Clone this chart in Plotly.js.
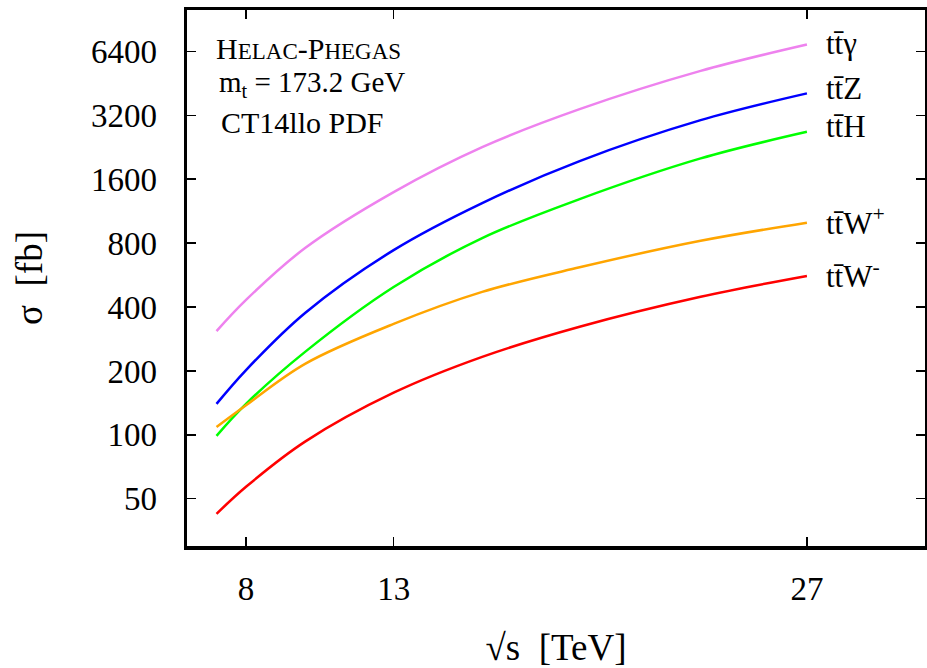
<!DOCTYPE html>
<html>
<head>
<meta charset="utf-8">
<script src="https://cdn.plot.ly/plotly-3.0.1.min.js"></script>
<style>html,body{margin:0;padding:0;background:#fff;}#chart{width:927px;height:668px;}</style>
</head>
<body>
<div id="chart"></div>
<script>
// Centre-of-mass energy in TeV
const sqrtS = [7, 8, 10, 13, 16, 19.3, 23.4, 27];
// Cross sections in fb
const ttGamma = [308, 432, 758, 1390, 2263, 3415, 5170, 6880];
const ttZ     = [140, 202, 375, 741, 1234, 1945, 3030, 4050];
const ttH     = [99, 140, 246, 497, 844, 1288, 2002, 2670];
const ttWplus = [109, 138, 216, 333, 471, 615, 820, 997];
const ttWminus= [42.5, 57, 93, 158, 233, 323, 447, 560];

const xTicks = [8, 13, 27];
const yTicks = [50, 100, 200, 400, 800, 1600, 3200, 6400];
const yTickText = ["50", "100", "200", "400", "800", "1600", "3200", "6400"];

const seriesNames = ["tt̄γ", "tt̄Z", "tt̄H", "tt̄W<sup>+</sup>", "tt̄W<sup>-</sup>"];
const seriesData = [ttGamma, ttZ, ttH, ttWplus, ttWminus];
const colors = ["#ee82ee", "#0000ff", "#00ff00", "#ffa500", "#ff0000"];
const labelY = [0.937, 0.853, 0.782, 0.606, 0.506];

const font = "Liberation Serif, Times New Roman, serif";

const traces = seriesData.map((ys, i) => ({
  x: sqrtS, y: ys, type: "scatter", mode: "lines",
  name: seriesNames[i],
  line: {color: colors[i], width: 2.5, shape: "spline", smoothing: 1},
  hoverinfo: "skip"
}));

const annotations = seriesNames.map((n, i) => ({
  text: n, xref: "paper", yref: "paper", x: 0.863, y: labelY[i],
  xanchor: "left", yanchor: "middle", showarrow: false,
  font: {family: font, size: 31, color: "#000"}
}));

const sc = "font-size:23px";
annotations.push(
  {text: "H<span style='" + sc + "'>ELAC</span>-P<span style='" + sc + "'>HEGAS</span>",
   xref: "paper", yref: "paper", x: 0.036, y: 0.929, xanchor: "left", yanchor: "middle",
   showarrow: false, font: {family: font, size: 30, color: "#000"}},
  {text: "m<sub>t</sub> = 173.2 GeV",
   xref: "paper", yref: "paper", x: 0.040, y: 0.862, xanchor: "left", yanchor: "middle",
   showarrow: false, font: {family: font, size: 29, color: "#000"}},
  {text: "CT14llo PDF",
   xref: "paper", yref: "paper", x: 0.044, y: 0.790, xanchor: "left", yanchor: "middle",
   showarrow: false, font: {family: font, size: 30, color: "#000"}}
);

const layout = {
  width: 927, height: 668,
  margin: {l: 187, r: 2, t: 10, b: 122},
  paper_bgcolor: "#fff", plot_bgcolor: "#fff",
  showlegend: false,
  font: {family: font, color: "#000"},
  xaxis: {
    range: [6, 31], tickvals: xTicks, ticktext: xTicks.map(String),
    ticks: "inside", ticklen: 9, tickwidth: 1.2, tickcolor: "#000",
    showline: true, linewidth: 3.5, linecolor: "#000", mirror: "ticks",
    showgrid: false, zeroline: false,
    ticklabelstandoff: 11,
    tickfont: {family: font, size: 33, color: "#000"},
    title: {text: "√s  [TeV]", font: {family: font, size: 37, color: "#000"}, standoff: 30}
  },
  yaxis: {
    type: "log", range: [Math.log10(30), 4],
    tickvals: yTicks, ticktext: yTickText,
    ticks: "inside", ticklen: 9, tickwidth: 1.2, tickcolor: "#000",
    showline: true, linewidth: 3.5, linecolor: "#000", mirror: "ticks",
    showgrid: false, zeroline: false,
    ticklabelstandoff: 20,
    tickfont: {family: font, size: 33, color: "#000"},
    title: {text: "σ  [fb]", font: {family: font, size: 37, color: "#000"}, standoff: 38}
  },
  annotations: annotations
};

Plotly.newPlot("chart", traces, layout, {displayModeBar: false, staticPlot: true});
</script>
</body>
</html>
